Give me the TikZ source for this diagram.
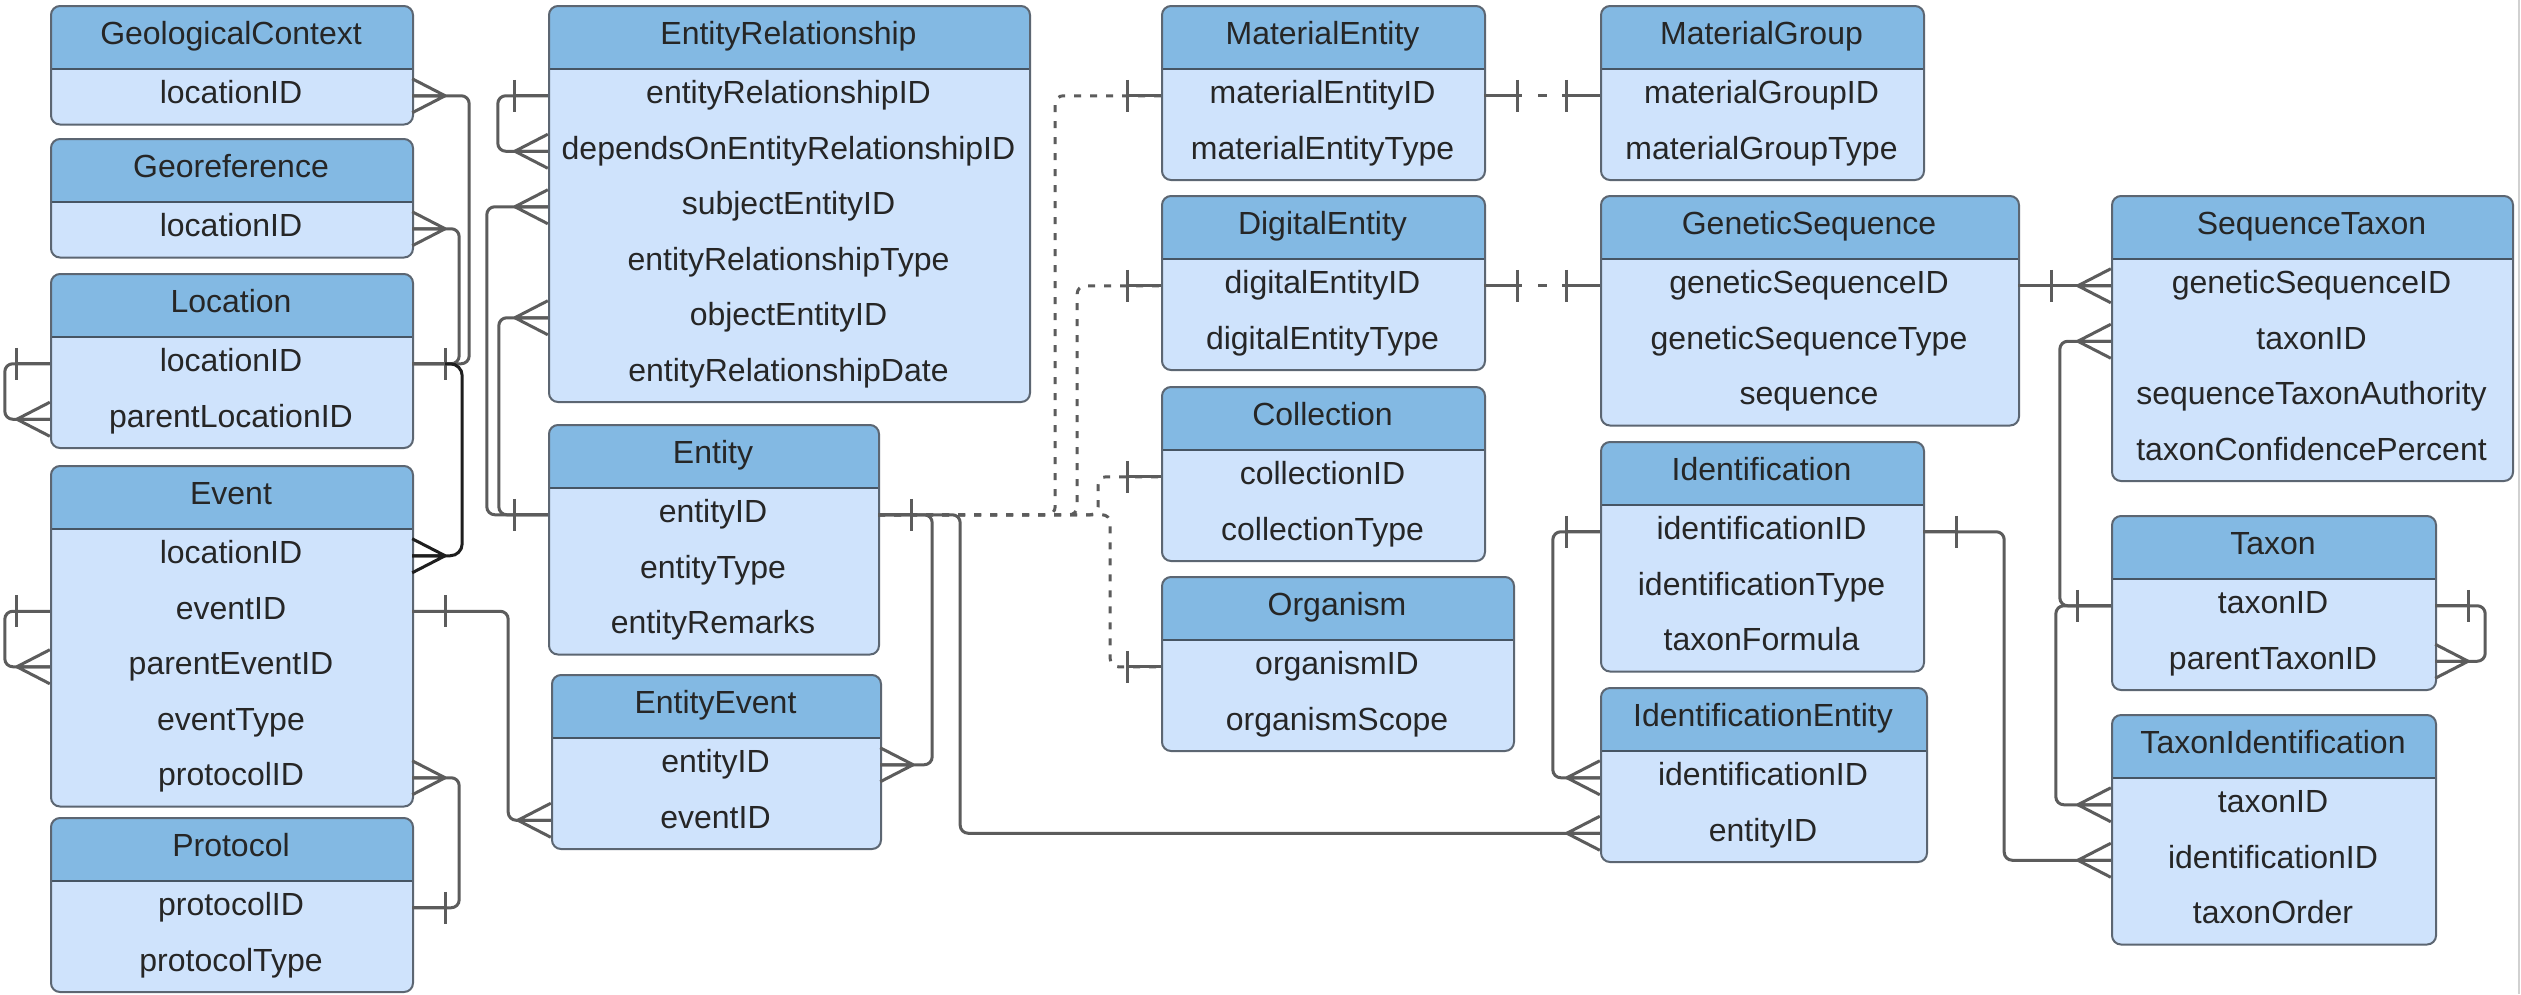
\documentclass[tikz,border=0pt]{standalone}
\usepackage{fontspec}
\setmainfont{Liberation Sans}
\definecolor{hdrc}{RGB}{131,185,227}
\definecolor{bodyc}{RGB}{207,227,252}
\definecolor{bordc}{RGB}{92,102,114}
\definecolor{divc}{RGB}{70,85,100}
\definecolor{linec}{RGB}{92,92,92}
\definecolor{darkc}{RGB}{30,30,30}
\definecolor{txtc}{RGB}{38,38,38}
\tikzset{
  erbox/.style={draw=bordc, line width=2pt, rounded corners=9pt, fill=bodyc, inner sep=0pt,
    path picture={
      \fill[hdrc, sharp corners] ([yshift=2pt]path picture bounding box.north west) rectangle ([yshift=-63pt]path picture bounding box.north east);
      \draw[divc, line width=2pt, sharp corners] ([yshift=-63pt]path picture bounding box.north west) -- ([yshift=-63pt]path picture bounding box.north east);}},
  ertext/.style={font=\fontsize{32}{38}\selectfont, text=txtc, inner sep=0pt, text height=23pt, text depth=7pt},
  conn/.style={draw=linec, line width=3pt, rounded corners=8pt},
  darkconn/.style={conn, draw=darkc, rounded corners=12pt},
  dotconn/.style={conn, dash pattern=on 7pt off 9pt},
  oneone/.style={draw=linec, line width=3pt, dash pattern=on 38pt off 16pt on 9pt off 15pt on 60pt},
  erend/.style={draw=linec, line width=3pt},
}
\newcommand{\ertable}[7]{%
  \pgfmathsetmacro{\erH}{63+55.5*#5}%
  \node[erbox, minimum width=#4pt, minimum height=\erH pt, anchor=north west] (#1) at (#2,#3) {};
  \node[ertext] (#1-t) at (#2+#4/2,#3+31.5) {#6};
  \foreach \f [count=\i] in {#7}{\node[ertext, minimum width=#4pt] (#1-\i) at (#2+#4/2,#3+90.75+55.5*\i-55.5) {\f};}
}
\newcommand{\crowR}[2][]{\draw[erend,#1] ([xshift=33pt]#2) -- ([yshift=17pt]#2) ([xshift=33pt]#2) -- ([yshift=-17pt]#2) ([xshift=33pt]#2) -- (#2);}
\newcommand{\crowL}[1]{\draw[erend] ([xshift=-33pt]#1) -- ([yshift=17pt]#1) ([xshift=-33pt]#1) -- ([yshift=-17pt]#1) ([xshift=-33pt]#1) -- (#1);}
\newcommand{\barR}[1]{\draw[erend] ([xshift=33pt,yshift=16pt]#1) -- ([xshift=33pt,yshift=-16pt]#1) ([xshift=33pt]#1) -- (#1);}
\newcommand{\barL}[1]{\draw[erend] ([xshift=-33pt,yshift=16pt]#1) -- ([xshift=-33pt,yshift=-16pt]#1) ([xshift=-33pt]#1) -- (#1);}
\begin{document}
\begin{tikzpicture}[x=1pt,y=-1pt]
\useasboundingbox[fill=white] (0,0) rectangle (2521,994);
\draw[black!18, line width=2pt] (2519,0) -- (2519,994);
% tables
\ertable{geo}{50}{5}{362}{1}{GeologicalContext}{locationID}
\ertable{georef}{50}{138}{362}{1}{Georeference}{locationID}
\ertable{loc}{50}{273}{362}{2}{Location}{locationID,parentLocationID}
\ertable{event}{50}{465}{362}{5}{Event}{locationID,eventID,parentEventID,eventType,protocolID}
\ertable{proto}{50}{817}{362}{2}{Protocol}{protocolID,protocolType}
\ertable{er}{548}{5}{481}{6}{EntityRelationship}{entityRelationshipID,dependsOnEntityRelationshipID,subjectEntityID,entityRelationshipType,objectEntityID,entityRelationshipDate}
\ertable{ent}{548}{424}{330}{3}{Entity}{entityID,entityType,entityRemarks}
\ertable{ee}{551}{674}{329}{2}{EntityEvent}{entityID,eventID}
\ertable{me}{1161}{5}{323}{2}{MaterialEntity}{materialEntityID,materialEntityType}
\ertable{de}{1161}{195}{323}{2}{DigitalEntity}{digitalEntityID,digitalEntityType}
\ertable{col}{1161}{386}{323}{2}{Collection}{collectionID,collectionType}
\ertable{org}{1161}{576}{352}{2}{Organism}{organismID,organismScope}
\ertable{mg}{1600}{5}{323}{2}{MaterialGroup}{materialGroupID,materialGroupType}
\ertable{gs}{1600}{195}{418}{3}{GeneticSequence}{geneticSequenceID,geneticSequenceType,sequence}
\ertable{idn}{1600}{441}{323}{3}{Identification}{identificationID,identificationType,taxonFormula}
\ertable{ie}{1600}{687}{326}{2}{IdentificationEntity}{identificationID,entityID}
\ertable{st}{2111}{195}{401}{4}{SequenceTaxon}{geneticSequenceID,taxonID,sequenceTaxonAuthority,taxonConfidencePercent}
\ertable{tax}{2111}{515}{324}{2}{Taxon}{taxonID,parentTaxonID}
\ertable{ti}{2111}{714}{324}{3}{TaxonIdentification}{taxonID,identificationID,taxonOrder}
% connectors
\draw[conn] (geo-1.east) -- ++(57,0) |- (loc-1.east);
\draw[conn] (georef-1.east) -- ++(47,0) |- (loc-1.east);
\draw[conn] (loc-1.west) -- ++(-45,0) |- (loc-2.west);
\draw[conn] (event-2.west) -- ++(-45,0) |- (event-3.west);
\draw[conn] (event-2.east) -- ++(96,0) |- (ee-2.west);
\draw[conn] (event-5.east) -- ++(47,0) |- (proto-1.east);
\draw[conn] (er-1.west) -- ++(-50,0) |- (er-2.west);
\draw[conn] (ent-1.west) -- ++(-61,0) |- (er-3.west);
\draw[conn] (ent-1.west) -- ++(-49,0) |- (er-5.west);
\draw[conn] (ent-1.east) -- ++(54,0) |- (ee-1.east);
\draw[conn] (ent-1.east) -- ++(82,0) |- (ie-2.west);
\draw[dotconn] (ent-1.east) -- ++(177,0) |- (me-1.west);
\draw[dotconn] (ent-1.east) -- ++(199,0) |- (de-1.west);
\draw[dotconn] (ent-1.east) -- ++(220,0) |- (col-1.west);
\draw[dotconn] (ent-1.east) -- ++(232,0) |- (org-1.west);
\draw[oneone] (me-1.east) -- (mg-1.west);
\draw[oneone] (de-1.east) -- (gs-1.west);
\draw[conn] (gs-1.east) -- (st-1.west);
\draw[conn] (tax-1.west) -- ++(-51,0) |- (st-2.west);
\draw[conn] (tax-1.west) -- ++(-55,0) |- (ti-1.west);
\draw[conn] (tax-1.east) -- ++(50,0) |- (tax-2.east);
\draw[conn] (idn-1.west) -- ++(-47,0) |- (ie-1.west);
\draw[conn] (idn-1.east) -- ++(81,0) |- (ti-2.west);
% ends
\crowR{geo-1.east} \crowR{georef-1.east} \barR{loc-1.east}
\draw[darkconn] ([xshift=33pt]loc-1.east) -- ++(17,0) |- (event-1.east);
\crowR[draw=darkc]{event-1.east}
\barL{loc-1.west} \crowL{loc-2.west}
\barL{event-2.west} \crowL{event-3.west}
\barR{event-2.east} \crowL{ee-2.west}
\crowR{event-5.east} \barR{proto-1.east}
\barL{er-1.west} \crowL{er-2.west}
\barL{ent-1.west} \crowL{er-3.west} \crowL{er-5.west}
\barR{ent-1.east} \crowR{ee-1.east} \crowL{ie-2.west}
\barL{me-1.west} \barL{de-1.west} \barL{col-1.west} \barL{org-1.west}
\barR{me-1.east} \barL{mg-1.west} \barR{de-1.east} \barL{gs-1.west}
\barR{gs-1.east} \crowL{st-1.west}
\barL{tax-1.west} \crowL{st-2.west} \crowL{ti-1.west}
\barR{tax-1.east} \crowR{tax-2.east}
\barL{idn-1.west} \crowL{ie-1.west}
\barR{idn-1.east} \crowL{ti-2.west}
\end{tikzpicture}
\end{document}
